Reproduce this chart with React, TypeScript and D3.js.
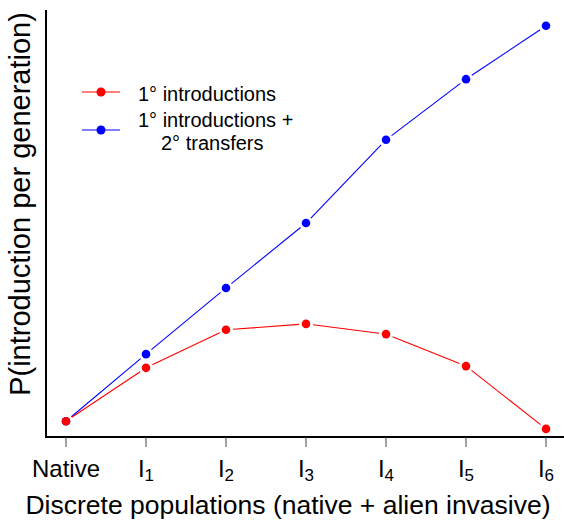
import React from "react";
import * as d3 from "d3";

const categories = ["Native", "I1", "I2", "I3", "I4", "I5", "I6"];
const tickMain = ["Native", "I", "I", "I", "I", "I", "I"];
const tickSub = ["", "1", "2", "3", "4", "5", "6"];
const primaryOnly = [0.037, 0.162, 0.251, 0.265, 0.241, 0.166, 0.019];
const primaryPlusSecondary = [0.037, 0.194, 0.349, 0.501, 0.696, 0.838, 0.963];
const legendLines = ["1° introductions", "1° introductions +", "2° transfers"];
const seriesColors = ["#ff0000", "#0000ff"];

const W = 564, H = 521;
const left = 46, right = 564, top = 10, bottom = 437;
const font = "'Liberation Sans', Arial, Helvetica, sans-serif";

export default function App() {
  const x = d3.scalePoint<string>().domain(categories).range([66, 546]).padding(0);
  const y = d3.scaleLinear().domain([0, 1]).range([bottom, top]);
  const gap = 7;
  const series = [primaryOnly, primaryPlusSecondary];

  const segs = (vals: number[], color: string, k: number) =>
    vals.slice(1).map((v, i) => {
      const x0 = x(categories[i])!, y0 = y(vals[i]);
      const x1 = x(categories[i + 1])!, y1 = y(v);
      const dx = x1 - x0, dy = y1 - y0;
      const len = Math.hypot(dx, dy);
      if (len <= 2 * gap) return null;
      const ux = dx / len, uy = dy / len;
      return (
        <line key={`s${k}-${i}`} x1={x0 + ux * gap} y1={y0 + uy * gap} x2={x1 - ux * gap} y2={y1 - uy * gap}
          stroke={color} strokeWidth={1.1} />
      );
    });

  return (
    <svg width={W} height={H} style={{ position: "absolute", left: 0, top: 0, background: "#fff" }} fontFamily={font}>
      <rect width={W} height={H} fill="#fff" />
      {/* axes */}
      <line x1={left} y1={top} x2={left} y2={bottom} stroke="#000" strokeWidth={2} />
      <line x1={left - 1} y1={bottom} x2={right} y2={bottom} stroke="#000" strokeWidth={2} />
      {categories.map((c, i) => (
        <g key={c}>
          <line x1={x(c)} x2={x(c)} y1={bottom} y2={bottom + 10} stroke="#444" strokeWidth={1} />
          <text x={x(c)} y={477} textAnchor="middle" fontSize={24} fill="#000">
            {tickMain[i]}
            {tickSub[i] && <tspan fontSize={17} dy={4}>{tickSub[i]}</tspan>}
          </text>
        </g>
      ))}
      {/* series: blue first, red on top */}
      {[1, 0].map((k) => (
        <g key={`g${k}`}>
          {segs(series[k], seriesColors[k], k)}
          {series[k].map((v, i) => (
            <circle key={i} cx={x(categories[i])} cy={y(v)} r={4.3} fill={seriesColors[k]} />
          ))}
        </g>
      ))}
      {/* legend */}
      {[0, 1].map((k) => {
        const ly = k === 0 ? 92 : 130;
        return (
          <g key={`l${k}`}>
            <line x1={82} x2={120} y1={ly} y2={ly} stroke={seriesColors[k]} strokeWidth={1.2} />
            <circle cx={101} cy={ly} r={4.5} fill={seriesColors[k]} />
          </g>
        );
      })}
      <text x={138} y={101} fontSize={20} fill="#000">{legendLines[0]}</text>
      <text x={138} y={127} fontSize={20} fill="#000">{legendLines[1]}</text>
      <text x={161} y={150} fontSize={20} fill="#000">{legendLines[2]}</text>
      {/* axis titles */}
      <text x={288} y={514} textAnchor="middle" fontSize={26.5} fill="#000">Discrete populations (native + alien invasive)</text>
      <text transform={`translate(30, 204) rotate(-90)`} textAnchor="middle" fontSize={29} fill="#000">P(introduction per generation)</text>
    </svg>
  );
}
